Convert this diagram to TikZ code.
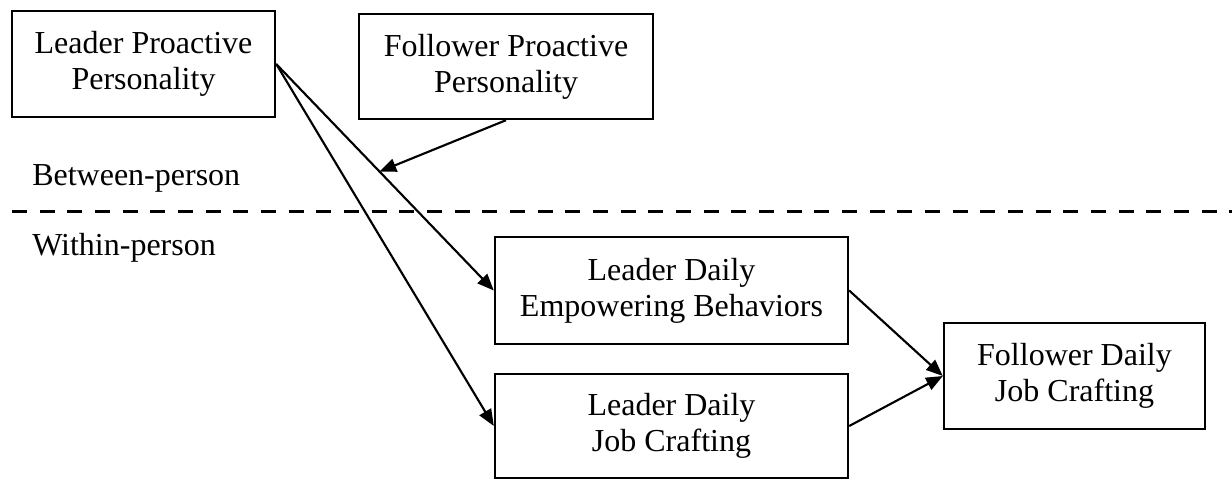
\documentclass[tikz,border=0pt]{standalone}
\usepackage{fontspec}
\setmainfont{Liberation Serif}
\usetikzlibrary{arrows.meta}
\begin{document}
\begin{tikzpicture}[x=0.75pt, y=-0.75pt,
  box/.style={draw, line width=1.8pt, align=center, inner sep=0pt,
    font=\fontsize{24}{27}\selectfont},
  lbl/.style={anchor=west, inner sep=0pt, font=\fontsize{24}{27}\selectfont},
  link/.style={line width=1.6pt, -{Triangle[length=12.5pt,width=10pt]}},
  divider/.style={line width=2.8pt, dash pattern=on 11.25pt off 9.5pt}
]
\useasboundingbox (0,0) rectangle (1232,480);

% between / within split
\coordinate (dl) at (12,211.5);
\coordinate (dr) at (1232,211.5);
\draw[divider] (dl) -- (dr);
\node[lbl] (between) at (32,178) {Between-person};
\node[lbl] (within) at (32,248) {Within-person};

% constructs
\node[box, minimum width=197.25pt, minimum height=79.5pt] (lpp) at (143.5,64)
  {Leader Proactive\\Personality};
\node[box, minimum width=220.5pt, minimum height=78.75pt] (fpp) at (506,66.5)
  {Follower Proactive\\Personality};
\node[box, minimum width=264.75pt, minimum height=80.25pt] (leb) at (671.5,290.5)
  {Leader Daily\\Empowering Behaviors};
\node[box, minimum width=264.75pt, minimum height=78pt] (ljc) at (671.5,426)
  {Leader Daily\\Job Crafting};
\node[box, minimum width=195.75pt, minimum height=79.5pt] (fjc) at (1074.5,376)
  {Follower Daily\\Job Crafting};

% paths
\draw[link] (lpp.east) -- coordinate[pos=0.475] (mod) (leb.west);
\draw[link] (lpp.east) -- (ljc.west);
\draw[link] (fpp.south) -- (mod);
\draw[link] (leb.east) -- (fjc.west);
\draw[link] (ljc.east) -- (fjc.west);
\end{tikzpicture}
\end{document}
